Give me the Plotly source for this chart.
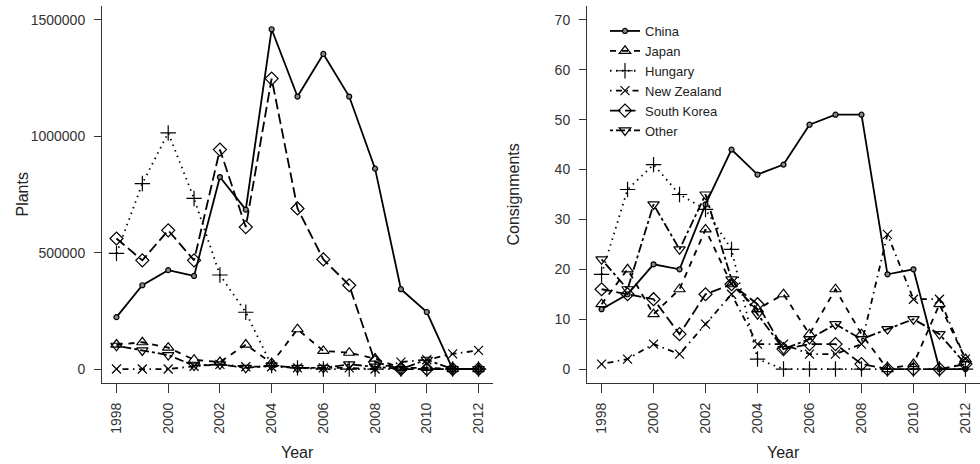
import plotly.graph_objects as go

years = list(range(1998, 2013))
series_names = ["China", "Japan", "Hungary", "New Zealand", "South Korea", "Other"]

plants_china = [223000, 360000, 425000, 400000, 825000, 685000, 1460000, 1171000, 1354000, 1171000, 861000, 343000, 245000, 0, 0]
plants_japan = [105000, 115000, 92000, 40000, 30000, 105000, 25000, 171000, 78000, 70000, 45000, 5000, 5000, 0, 0]
plants_hungary = [497000, 797000, 1015000, 733000, 404000, 244000, 15000, 5000, 0, 0, 0, 0, 0, 0, 0]
plants_nz = [0, 0, 0, 12000, 20000, 10000, 10000, 5000, 5000, 5000, 0, 30000, 40000, 65000, 80000]
plants_sk = [561000, 467000, 596000, 467000, 943000, 610000, 1248000, 690000, 471000, 360000, 30000, 0, 0, 0, 0]
plants_other = [100000, 80000, 60000, 15000, 20000, 5000, 15000, 5000, 5000, 20000, 10000, 0, 40000, 0, 0]

cons_china = [12, 15, 21, 20, 33, 44, 39, 41, 49, 51, 51, 19, 20, 0, 0]
cons_japan = [13, 20, 11, 16, 28, 17, 12, 15, 7, 16, 7, 0, 1, 13, 2]
cons_hungary = [19, 36, 41, 35, 32, 24, 2, 0, 0, 0, 0, 0, 0, 0, 0]
cons_nz = [1, 2, 5, 3, 9, 15, 5, 5, 3, 3, 5, 27, 14, 14, 2]
cons_sk = [16, 15, 14, 7, 15, 17, 13, 4, 5, 5, 1, 0, 0, 0, 1]
cons_other = [22, 16, 33, 24, 35, 18, 11, 4, 6, 9, 6, 8, 10, 7, 1]

plants_ticks = [0, 500000, 1000000, 1500000]
cons_ticks = [0, 10, 20, 30, 40, 50, 60, 70]
year_ticks = [1998, 2000, 2002, 2004, 2006, 2008, 2010, 2012]

plants = [plants_china, plants_japan, plants_hungary, plants_nz, plants_sk, plants_other]
cons = [cons_china, cons_japan, cons_hungary, cons_nz, cons_sk, cons_other]

dashes = ["solid", "6px,6px", "1.5px,4.5px", "1.5px,4.5px,6px,4.5px", "10.5px,4.5px", "3px,3px,9px,3px"]
symbols = ["circle", "triangle-up-open", "cross-thin-open", "x-thin-open", "diamond-open", "triangle-down-open"]
sizes = [5, 10, 11, 9, 10, 10]

fig = go.Figure()
for i, name in enumerate(series_names):
    marker = dict(symbol=symbols[i], size=sizes[i], color="black",
                  line=dict(color="black", width=1.2))
    if i == 0:
        marker = dict(symbol="circle", size=5, color="#888888", line=dict(color="black", width=1.2))
    fig.add_trace(go.Scatter(x=years, y=plants[i], mode="lines+markers", name=name,
                             line=dict(color="black", width=1.8, dash=dashes[i]),
                             marker=marker, xaxis="x", yaxis="y", showlegend=False))
    fig.add_trace(go.Scatter(x=years, y=cons[i], mode="lines+markers", name=name,
                             line=dict(color="black", width=1.8, dash=dashes[i]),
                             marker=marker, xaxis="x2", yaxis="y2", showlegend=True))

tick_font = dict(family="Liberation Sans, Arial", size=14, color="#333333")
axis_common = dict(showgrid=False, zeroline=False, showline=True, linecolor="#333333", linewidth=1,
                   ticks="outside", tickcolor="#333333", tickwidth=1, tickfont=tick_font)

W, H = 980, 464
L, R, T, B = 102, 0, 6, 81
pw = W - L - R
ph = H - T - B

def px(x):
    return (x - L) / pw

def py(y):
    return (H - B - y) / ph

fig.update_layout(
    width=W, height=H,
    margin=dict(l=L, r=R, t=T, b=B),
    plot_bgcolor="white", paper_bgcolor="white",
    xaxis=dict(domain=[0, px(493)], range=[1997.44, 2012.56], tickvals=year_ticks,
               ticktext=[str(v) for v in year_ticks], tickangle=-90, ticklen=9,
               ticklabelstandoff=4, anchor="y", **axis_common),
    yaxis=dict(domain=[0, 1], range=[-60000, 1560000], tickvals=plants_ticks,
               ticktext=[str(v) for v in plants_ticks], ticklen=7,
               ticklabelstandoff=6, anchor="x", **axis_common),
    xaxis2=dict(domain=[px(587), 1], range=[1997.44, 2012.56], tickvals=year_ticks,
                ticktext=[str(v) for v in year_ticks], tickangle=-90, ticklen=9,
                ticklabelstandoff=4, anchor="y2", **axis_common),
    yaxis2=dict(domain=[0, 1], range=[-2.8, 72.8], tickvals=cons_ticks,
                ticktext=[str(v) for v in cons_ticks], ticklen=7,
                ticklabelstandoff=6, anchor="x2", **axis_common),
    legend=dict(x=px(605), y=py(16), xanchor="left", yanchor="top",
                font=dict(family="Liberation Sans, Arial", size=13, color="#222222"),
                bgcolor="rgba(0,0,0,0)", itemwidth=30, tracegroupgap=0),
    showlegend=True,
)

title_font = dict(family="Liberation Sans, Arial", size=16, color="#222222")
fig.add_annotation(text="Plants", x=px(22), y=0.5, xref="paper", yref="paper", textangle=-90,
                   showarrow=False, font=title_font, xanchor="center", yanchor="middle")
fig.add_annotation(text="Consignments", x=px(513), y=0.5, xref="paper", yref="paper", textangle=-90,
                   showarrow=False, font=title_font, xanchor="center", yanchor="middle")
fig.add_annotation(text="Year", x=px(297.5), y=py(452), xref="paper", yref="paper",
                   showarrow=False, font=title_font, xanchor="center", yanchor="middle")
fig.add_annotation(text="Year", x=px(783.5), y=py(452), xref="paper", yref="paper",
                   showarrow=False, font=title_font, xanchor="center", yanchor="middle")

fig.write_html("out.html", config={"displayModeBar": False},
               post_script="document.body.style.margin='0';document.body.style.overflow='hidden';")
